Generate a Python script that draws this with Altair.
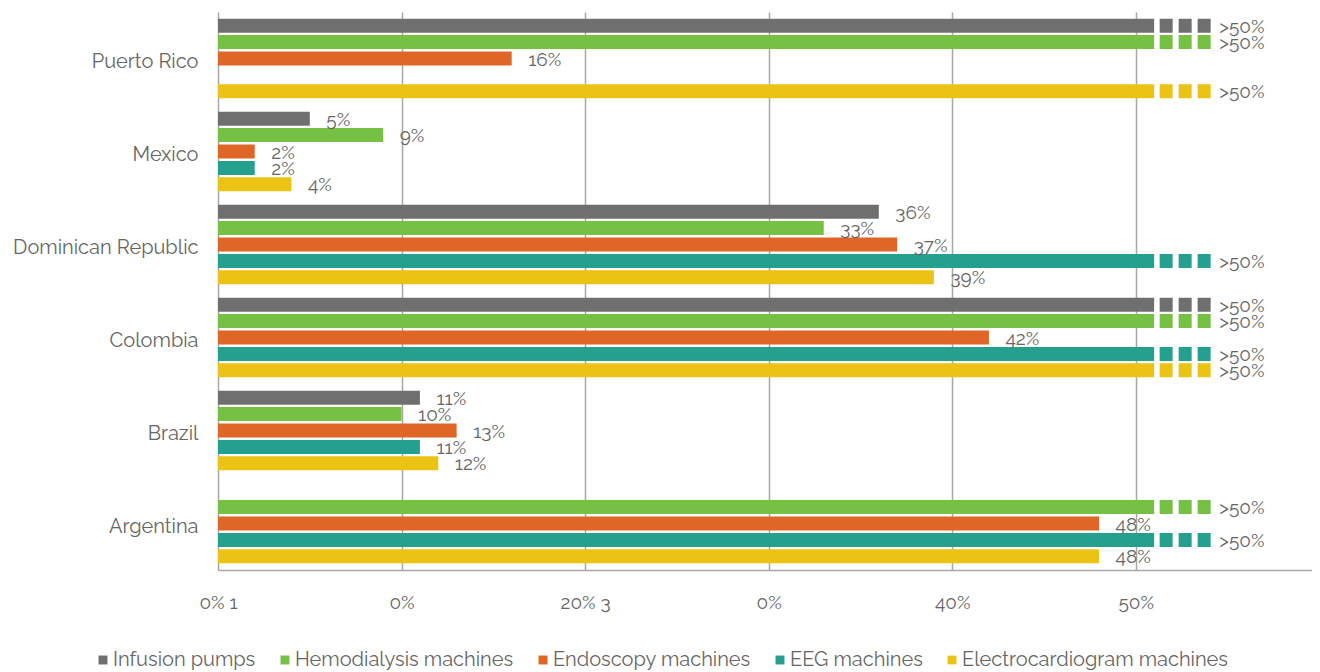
import json
import altair as alt
import pandas as pd

countries = ["Puerto Rico", "Mexico", "Dominican Republic", "Colombia", "Brazil", "Argentina"]
series = ["Infusion pumps", "Hemodialysis machines", "Endoscopy machines",
          "EEG machines", "Electrocardiogram machines"]
colors = ["#6f6f6f", "#76c043", "#e06628", "#259f8e", "#ebc315"]

infusion = [">50", 5, 36, ">50", 11, None]
hemodialysis = [">50", 9, 33, ">50", 10, ">50"]
endoscopy = [16, 2, 37, 42, 13, 48]
eeg = [None, 2, ">50", ">50", 11, ">50"]
ecg = [">50", 4, 39, ">50", 12, 48]

tick_values = [0, 10, 20, 30, 40, 50]
tick_labels = ["0% 1", "0%", "20% 3", "0%", "40%", "50%"]

OVER_BAR = 51  # solid part of the ">50%" bars

rows = []
for s, vals in zip(series, [infusion, hemodialysis, endoscopy, eeg, ecg]):
    for c, v in zip(countries, vals):
        if v is None:
            continue
        over = v == ">50"
        rows.append({
            "country": c,
            "series": s,
            "value": OVER_BAR if over else v,
            "over": over,
            "label": ">50%" if over else f"{v}%",
        })
df = pd.DataFrame(rows)

FONT = "Raleway, Open Sans, Lato, sans-serif"
TXT = "#666666"

y_enc = alt.Y("country:N", sort=countries, title=None,
              scale=alt.Scale(paddingInner=0.14, paddingOuter=0.07),
              axis=alt.Axis(domain=False, ticks=False, labelPadding=20,
                            labelFontSize=20, labelFont=FONT, labelColor=TXT,
                            labelOffset=3, labelLimit=300, grid=False))
yoff = alt.YOffset("series:N", sort=series, scale=alt.Scale(paddingInner=0.12, paddingOuter=0))
x_scale = alt.Scale(domain=[0, 59.6], nice=False)
color = alt.Color("series:N", sort=series,
                  scale=alt.Scale(domain=series, range=colors),
                  legend=alt.Legend(title=None, orient="none", direction="horizontal",
                                    legendX=-125, legendY=638,
                                    symbolType="square", symbolSize=80,
                                    symbolStrokeWidth=0, symbolOpacity=1,
                                    labelFontSize=20, labelFont=FONT, labelColor=TXT,
                                    labelLimit=400, labelOffset=0, columnPadding=19))

base = alt.Chart(df)

bars = base.mark_bar(size=14).encode(
    x=alt.X("value:Q", scale=x_scale, title=None,
            axis=alt.Axis(values=tick_values,
                          labelExpr=f"{json.dumps(tick_labels)}[round(datum.value/10)]",
                          grid=True, gridColor="#a8a8a8", gridWidth=1.5,
                          domain=True, domainColor="#a8a8a8", domainWidth=1.5,
                          ticks=False, labelPadding=23, labelFontSize=19,
                          labelFlush=False,
                          labelFont=FONT, labelColor=TXT)),
    y=y_enc,
    yOffset=yoff,
    color=color,
)

dashes = base.transform_filter("datum.over").transform_calculate(
    d0="datum.value + 0.3", d1="datum.value + 3.1"
).mark_rule(strokeWidth=14, strokeDash=[13, 6], strokeCap="butt").encode(
    x=alt.X("d0:Q", scale=x_scale),
    x2="d1:Q",
    y=alt.Y("country:N", sort=countries),
    yOffset=yoff,
    color=alt.Color("series:N", sort=series, legend=None),
)

labels = base.transform_calculate(
    pos="datum.over ? datum.value + 3.55 : datum.value + 0.9"
).mark_text(align="left", baseline="middle", dy=1, fontSize=19, font=FONT, color=TXT).encode(
    x=alt.X("pos:Q", scale=x_scale),
    y=alt.Y("country:N", sort=countries),
    yOffset=yoff,
    text="label:N",
)

chart = alt.layer(bars, dashes, labels).properties(
    width=1094, height=558,
    autosize=alt.AutoSizeParams(type="none"),
    padding={"left": 210, "top": 4, "right": 0, "bottom": 100},
).configure_view(stroke=None)

chart.save("out.html", embed_options={"renderer": "svg", "actions": False})
